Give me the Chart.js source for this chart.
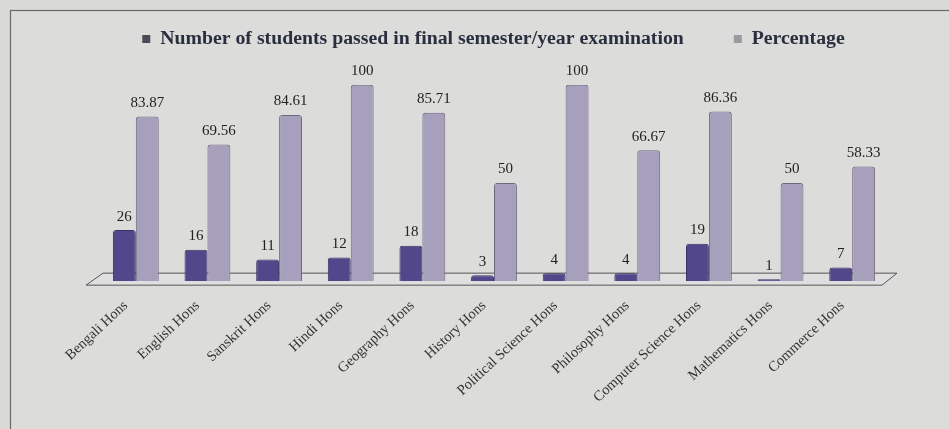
<!DOCTYPE html>
<html>
<head>
<meta charset="utf-8">
<script src="https://cdn.jsdelivr.net/npm/chart.js@4/dist/chart.umd.min.js"></script>
<style>
html,body{margin:0;padding:0;background:#d9d9d7;}
#wrap{width:949px;height:429px;}
</style>
</head>
<body>
<div id="wrap"><canvas id="c" width="949" height="429"></canvas></div>
<script>
const categories = ["Bengali Hons","English Hons","Sanskrit Hons","Hindi Hons","Geography Hons","History Hons","Political Science Hons","Philosophy Hons","Computer Science Hons","Mathematics Hons","Commerce Hons"];
const passedStudents = [26,16,11,12,18,3,4,4,19,1,7];
const passPercentage = [83.87,69.56,84.61,100,85.71,50,100,66.67,86.36,50,58.33];
const seriesNames = ["Number of students passed in final semester/year examination","Percentage"];
const percentLabels = ["83.87","69.56","84.61","100","85.71","50","100","66.67","86.36","50","58.33"];

const FONT = "'Liberation Serif','DejaVu Serif',serif";

const frame = {
  id:'frame',
  beforeDraw(chart){
    const c = chart.ctx;
    c.save();
    c.fillStyle = '#d9d9d7';
    c.fillRect(0,0,chart.width,chart.height);
    c.fillStyle = '#dcdcda';
    c.fillRect(10,10,chart.width,chart.height);
    c.strokeStyle = '#6a6a6a';
    c.lineWidth = 1.2;
    c.strokeRect(10.5,10.5,chart.width+20,chart.height+20);
    // floor plane
    const a = chart.chartArea;
    const base = chart.scales.y.getPixelForValue(0);
    c.fillStyle = '#dfdfdf';
    c.strokeStyle = '#555';
    c.lineWidth = 1;
    c.beginPath();
    c.moveTo(a.left-14, base+4);
    c.lineTo(a.left+3, base-8);
    c.lineTo(a.right+9, base-8);
    c.lineTo(a.right-6, base+4);
    c.closePath();
    c.fill();
    c.stroke();
    c.restore();
  }
};

const valueLabels = {
  id:'valueLabels',
  afterDatasetsDraw(chart){
    const c = chart.ctx;
    c.save();
    c.font = "15px " + FONT;
    c.fillStyle = '#222';
    c.textAlign = 'center';
    c.textBaseline = 'bottom';
    chart.data.datasets.forEach((ds, di) => {
      const meta = chart.getDatasetMeta(di);
      meta.data.forEach((bar, i) => {
        const txt = di === 1 ? percentLabels[i] : String(ds.data[i]);
        c.fillText(txt, bar.x, bar.y - 6);
      });
    });
    c.restore();
  }
};

const legendMargin = {
  id:'legendMargin',
  beforeInit(chart){
    const fit = chart.legend.fit;
    chart.legend.fit = function(){
      fit.bind(chart.legend)();
      this.height += 26;
    };
  }
};

new Chart(document.getElementById('c'), {
  type:'bar',
  data:{
    labels: categories,
    datasets:[
      {label: seriesNames[0], data: passedStudents, backgroundColor:'#52478a', borderColor:'#3a3266', borderWidth:1, borderRadius:3, borderSkipped:'bottom'},
      {label: seriesNames[1], data: passPercentage, backgroundColor:'#a7a0bd', borderColor:'#6e6883', borderWidth:1, borderRadius:3, borderSkipped:'bottom'}
    ]
  },
  options:{
    responsive:false,
    animation:false,
    layout:{padding:{top:-21,left:38,right:0,bottom:7}},
    datasets:{bar:{categoryPercentage:0.64, barPercentage:1.0}},
    plugins:{
      legend:{
        position:'top',
        labels:{
          font:{family:FONT, size:19.8, weight:'bold'},
          color:'#2a2f3f',
          boxWidth:8, boxHeight:8,
          padding:50,
          generateLabels(chart){
            return chart.data.datasets.map((ds,i)=>({
              text: ds.label,
              fillStyle: i===0 ? '#4a4a55' : '#9a9aa3',
              strokeStyle: i===0 ? '#4a4a55' : '#9a9aa3',
              lineWidth:0,
              datasetIndex:i,
              fontColor:'#2a2f3f'
            }));
          }
        }
      },
      tooltip:{enabled:false}
    },
    scales:{
      x:{
        grid:{display:false, drawTicks:false},
        border:{display:false},
        ticks:{
          font:{family:FONT, size:14.5},
          color:'#333',
          minRotation:43, maxRotation:43,
          padding:16,
          labelOffset:-10,
          autoSkip:false
        }
      },
      y:{
        position:'left',
        min:0, max:100,
        grid:{display:false, drawTicks:false},
        border:{display:false},
        ticks:{display:false},
        afterFit(s){ s.width = 62; }
      },
      yr:{
        position:'right',
        min:0, max:100,
        grid:{display:false, drawTicks:false},
        border:{display:false},
        ticks:{display:false},
        afterFit(s){ s.width = 61; }
      }
    }
  },
  plugins:[frame, valueLabels, legendMargin]
});
</script>
</body>
</html>
